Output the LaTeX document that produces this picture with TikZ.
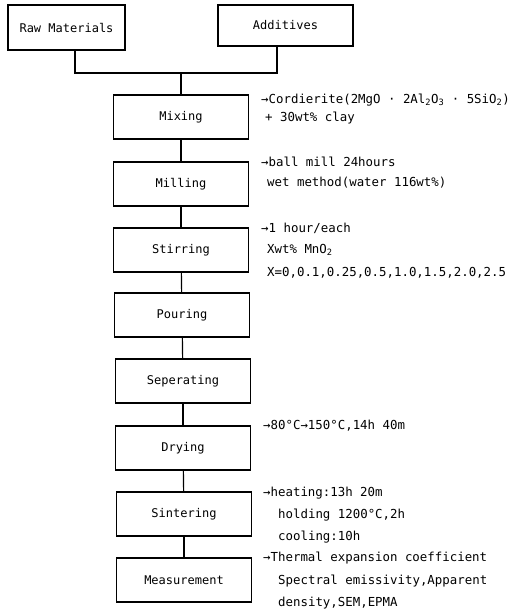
\documentclass[tikz,border=0pt]{standalone}
\usepackage{fontspec}
\setmonofont{DejaVu Sans Mono}
\begin{document}
\begin{tikzpicture}[x=1pt,y=-1pt,
  stepbox/.style={draw,line width=1.2pt,minimum width=135pt,minimum height=44pt,inner sep=0pt,font=\ttfamily\fontsize{12}{13}\selectfont},
  note/.style={anchor=west,inner sep=0pt,font=\ttfamily\fontsize{12.4}{13}\selectfont},
  link/.style={line width=1.2pt}]
\useasboundingbox (0,0) rectangle (518,611);
\node[stepbox,minimum width=117pt,minimum height=45pt] (raw) at (66.5,27.5) {Raw Materials};
\node[stepbox,minimum height=41pt] (add) at (285.5,25.5) {Additives};
\node[stepbox] (mix) at (181,117) {Mixing};
\node[stepbox] (mil) at (181,184) {Milling};
\node[stepbox] (sti) at (181,250) {Stirring};
\node[stepbox] (pou) at (182,315) {Pouring};
\node[stepbox] (sep) at (183,381) {Seperating};
\node[stepbox] (dry) at (183,448) {Drying};
\node[stepbox] (sin) at (184,514) {Sintering};
\node[stepbox] (mea) at (184,580) {Measurement};
\coordinate (j) at (181,73);
\coordinate (jl) at (75,73);
\coordinate (jr) at (277,73);
\draw[link] (raw.south -| jl) -- (jl) -- (jr) -- (add.south -| jr);
\draw[link] (j) -- (mix.north);
\draw[link] (mix) -- (mil);
\draw[link] (mil) -- (sti);
\draw[link] (sti) -- (pou);
\draw[link] (pou) -- (sep);
\draw[link] (sep) -- (dry);
\draw[link] (dry) -- (sin);
\draw[link] (sin) -- (mea);
% annotations
\node[note] (n1) at (261,100) {→Cordierite(2MgO · 2Al\textsubscript{2}O\textsubscript{3} · 5SiO\textsubscript{2})};
\node[note] (n2) at (265,118) {+ 30wt\% clay};
\node[note] (n3) at (261,162) {→ball mill 24hours};
\node[note] (n4) at (267,183) {wet method(water 116wt\%)};
\node[note] (n5) at (261,228) {→1 hour/each};
\node[note] (n6) at (267,250) {Xwt\% MnO\textsubscript{2}};
\node[note] (n7) at (267,273) {X=0,0.1,0.25,0.5,1.0,1.5,2.0,2.5};
\node[note] (n8) at (263,426) {→80°C→150°C,14h 40m};
\node[note] (n9) at (263,493) {→heating:13h 20m};
\node[note] (n10) at (278,515) {holding 1200°C,2h};
\node[note] (n11) at (278,537) {cooling:10h};
\node[note] (n12) at (263,558) {→Thermal expansion coefficient};
\node[note] (n13) at (278,581) {Spectral emissivity,Apparent};
\node[note] (n14) at (278,603) {density,SEM,EPMA};
\end{tikzpicture}
\end{document}
